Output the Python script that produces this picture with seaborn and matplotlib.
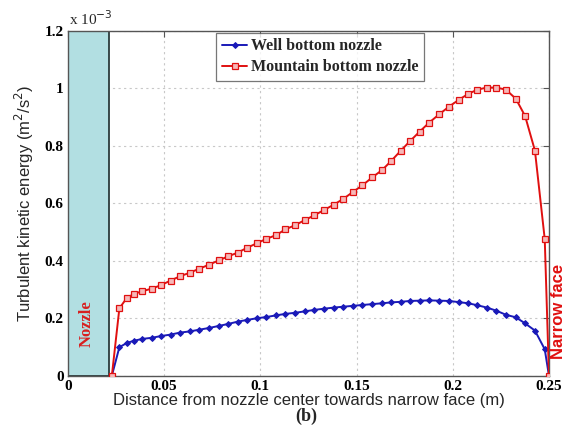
import numpy as np
import pandas as pd
import seaborn as sns
import matplotlib
matplotlib.use("Agg")
import matplotlib.pyplot as plt
from matplotlib.ticker import FuncFormatter

# Distance from the nozzle centre (m)
distance = [0.0228, 0.0267, 0.0306, 0.0345, 0.0387, 0.0436, 0.0484, 0.0533, 0.0583,
            0.0632, 0.0682, 0.0733, 0.0783, 0.0832, 0.0882, 0.0931, 0.0983, 0.1031,
            0.1082, 0.1130, 0.1182, 0.1233, 0.1281, 0.1330, 0.1382, 0.1431, 0.1481,
            0.1530, 0.1582, 0.1634, 0.1680, 0.1729, 0.1778, 0.1828, 0.1877, 0.1929,
            0.1981, 0.2030, 0.2080, 0.2128, 0.2177, 0.2227, 0.2276, 0.2328, 0.2376,
            0.2427, 0.2478, 0.2500]

# Turbulent kinetic energy, in units of 1e-3 m^2/s^2
tke_well = [0.000, 0.099, 0.114, 0.122, 0.128, 0.132, 0.138, 0.143, 0.150,
            0.154, 0.160, 0.166, 0.173, 0.180, 0.188, 0.194, 0.200, 0.204,
            0.210, 0.215, 0.219, 0.224, 0.229, 0.233, 0.237, 0.240, 0.243,
            0.246, 0.249, 0.252, 0.255, 0.257, 0.260, 0.261, 0.262, 0.261,
            0.260, 0.256, 0.252, 0.245, 0.237, 0.226, 0.212, 0.203, 0.182,
            0.157, 0.092, 0.000]

tke_mountain = [0.000, 0.234, 0.271, 0.285, 0.294, 0.303, 0.315, 0.331, 0.346,
                0.358, 0.372, 0.386, 0.401, 0.415, 0.428, 0.445, 0.461, 0.476,
                0.489, 0.509, 0.524, 0.542, 0.558, 0.576, 0.595, 0.615, 0.639,
                0.662, 0.690, 0.716, 0.747, 0.782, 0.816, 0.849, 0.880, 0.909,
                0.936, 0.959, 0.980, 0.995, 1.002, 1.002, 0.995, 0.963, 0.903,
                0.783, 0.475, 0.000]

series_names = ["Well bottom nozzle", "Mountain bottom nozzle"]
x_ticks = [0, 0.05, 0.1, 0.15, 0.2, 0.25]
y_ticks = [0, 0.2, 0.4, 0.6, 0.8, 1.0, 1.2]
nozzle_width = 0.0213

df = pd.DataFrame({
    "distance": distance * 2,
    "tke": tke_well + tke_mountain,
    "series": [series_names[0]] * len(distance) + [series_names[1]] * len(distance),
})

sns.set_style("white")
plt.rcParams["font.family"] = ["Liberation Serif", "DejaVu Serif"]

fig = plt.figure(figsize=(5.68, 4.38), dpi=100)
ax = fig.add_axes([0.1197, 0.1422, 0.8468, 0.7878])

blue = "#1a1ab8"
red = "#e01010"

# Nozzle region
ax.axvspan(0, nozzle_width, facecolor="#b2dfe2", edgecolor="#2b3b3b", lw=1.3, zorder=1)

sns.lineplot(data=df[df.series == series_names[0]], x="distance", y="tke", ax=ax,
             color=blue, lw=1.4, marker="D", markersize=3.0, markeredgecolor=blue,
             markerfacecolor=blue, label=series_names[0], zorder=3)
sns.lineplot(data=df[df.series == series_names[1]], x="distance", y="tke", ax=ax,
             color=red, lw=1.4, marker="s", markersize=4.2, markeredgecolor=red,
             markerfacecolor="#f6b8b8", markeredgewidth=0.9,
             label=series_names[1], zorder=4)

ax.set_xlim(0, 0.25)
ax.set_ylim(0, 1.2)
ax.set_xticks(x_ticks)
ax.set_yticks(y_ticks)
fmt = FuncFormatter(lambda v, p: f"{v:g}")
ax.xaxis.set_major_formatter(fmt)
ax.yaxis.set_major_formatter(fmt)
ax.tick_params(direction="in", length=4, width=0.8, colors="#555555",
               labelcolor="black", labelsize=11, pad=3, top=True, right=True)
for lbl in ax.get_xticklabels() + ax.get_yticklabels():
    lbl.set_fontweight("bold")

ax.grid(True, linestyle=(0, (2, 3)), color="#c8c8c8", lw=0.8)
ax.set_axisbelow(True)
for s in ax.spines.values():
    s.set_color("#555555")
    s.set_linewidth(1.0)

ax.set_xlabel("Distance from nozzle center towards narrow face (m)",
              fontsize=12, family=["Liberation Sans", "DejaVu Sans"], labelpad=0)
ax.set_ylabel("Turbulent kinetic energy (m$^2$/s$^2$)",
              fontsize=12, family=["Liberation Sans", "DejaVu Sans"], labelpad=6)

# Axis multiplier
fig.text(0.121, 0.935, r"x 10$^{-3}$", fontsize=11, ha="left", va="bottom")

ax.text(0.0095, 0.18, "Nozzle", rotation=90, color="#d82020", fontsize=12,
        fontweight="bold", ha="center", va="center")
fig.text(0.983, 0.29, "Narrow face", rotation=90, color=red, fontsize=12,
         fontweight="bold", family=["Liberation Sans", "DejaVu Sans"],
         ha="center", va="center")
fig.text(0.54, 0.05, "(b)", fontsize=13, fontweight="bold", ha="center", va="center")

leg = ax.legend(loc="upper center", bbox_to_anchor=(0.524, 0.994), frameon=True,
                fancybox=False, edgecolor="#555555",
                prop={"weight": "bold", "size": 11.5}, handlelength=1.6,
                handletextpad=0.2, borderpad=0.35, labelspacing=0.3,
                borderaxespad=0.0)
leg.get_frame().set_linewidth(0.9)

fig.savefig("out.png", dpi=100)
